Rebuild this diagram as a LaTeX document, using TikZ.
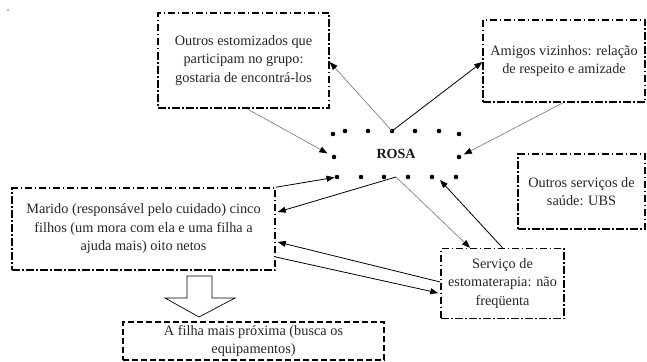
\documentclass[tikz,border=0pt]{standalone}
\usepackage{fontspec}
\setmainfont{Liberation Serif}
\usetikzlibrary{arrows.meta,calc}
\begin{document}
\begin{tikzpicture}[x=1pt,y=-1pt,
  txt/.style={font=\fontsize{14.3}{18.5}\selectfont, text=black!85, align=center},
  dashdotbox/.style={draw, line width=1.5pt, dash pattern=on 7.5pt off 2.5pt on 1.5pt off 2.5pt, inner sep=0pt, txt},
  dashbox/.style={draw, line width=1.5pt, dash pattern=on 6pt off 3pt, inner sep=0pt, txt},
  rdot/.style={circle, fill=black, inner sep=0pt, minimum size=4.6pt},
  blk/.style={draw=black, line width=0.8pt, -{Triangle[length=8pt,width=6pt]}},
  gry/.style={draw=black!55, line width=0.6pt, -{Triangle[length=8pt,width=6pt,color=black]}},
]
\useasboundingbox (0,0) rectangle (647,361);
\node[circle, fill=black!80, inner sep=0pt, minimum size=1.5pt] (speck) at (8,10) {};

% boxes
\node[dashdotbox, minimum width=171pt, minimum height=95pt] (estom) at (243.5,60.5)
  {Outros estomizados que\\participam no grupo:\\gostaria de encontrá-los};
\node[dashdotbox, minimum width=162pt, minimum height=82pt] (amigos) at (564,61)
  {Amigos vizinhos: relação\\de respeito e amizade};
\node[dashdotbox, minimum width=263pt, minimum height=82pt] (marido) at (143.5,229)
  {Marido (responsável pelo cuidado) cinco\\filhos (um mora com ela e uma filha a\\ajuda mais) oito netos};
\node[dashdotbox, minimum width=127pt, minimum height=75pt] (ubs) at (581.5,191.5)
  {Outros serviços de\\saúde: UBS};
\node[dashdotbox, minimum width=123pt, minimum height=70pt] (servico) at (502.5,283.5)
  {Serviço de\\estomaterapia: não\\freqüenta};
\node[dashbox, minimum width=261pt, minimum height=38pt] (filha) at (253.5,341)
  {A filha mais próxima (busca os\\equipamentos)};

% ROSA
\node[font=\bfseries\fontsize{14}{16}\selectfont, text=black!90] (rosa) at (396,154) {ROSA};
\node[rdot] (t1) at (333,134) {};
\node[rdot] (t2) at (345,131) {};
\node[rdot] (t3) at (368,131) {};
\node[rdot] (t4) at (392,131) {};
\node[rdot] (t5) at (415,131) {};
\node[rdot] (t6) at (439,131) {};
\node[rdot] (t7) at (459,134) {};
\node[rdot] (m1) at (334,157) {};
\node[rdot] (m2) at (459,157) {};
\node[rdot] (b1) at (337,177) {};
\node[rdot] (b2) at (361,177) {};
\node[rdot] (b3) at (384,177) {};
\node[rdot] (b4) at (408,177) {};
\node[rdot] (b5) at (432,177) {};
\node[rdot] (b6) at (456,177) {};
\coordinate (bm) at (396,177);
\coordinate (hend) at (440,180);

% connectors
\draw[gry, shorten >=5pt] ([xshift=3.5pt]estom.south) -- (m1);
\draw[gry] (t4.center) -- ([yshift=-1.5pt]estom.east);
\draw[blk] (t4.center) -- ([yshift=-1pt]amigos.west);
\draw[gry, shorten >=3pt] ([xshift=-1pt]amigos.south) -- (m2);
\draw[blk] (marido.north east) -- (b1);
\draw[blk] (bm) -- ([xshift=2pt,yshift=17pt]marido.east);
\draw[gry] (bm) -- ([xshift=-32.5pt]servico.north);
\draw[blk] (servico.north) -- (hend);
\draw[blk] ([yshift=1.5pt]servico.west) -- ([xshift=2pt,yshift=-13pt]marido.east);
\draw[blk] ([yshift=-28pt]marido.east) -- ([xshift=-2pt,yshift=-9.5pt]servico.west);

% block arrow
\draw[line width=0.7pt, fill=white] (187,276) -- (212,276) -- (212,298) -- (235,298) -- (199,317) -- (165,298) -- (187,298) -- cycle;
\end{tikzpicture}
\end{document}
